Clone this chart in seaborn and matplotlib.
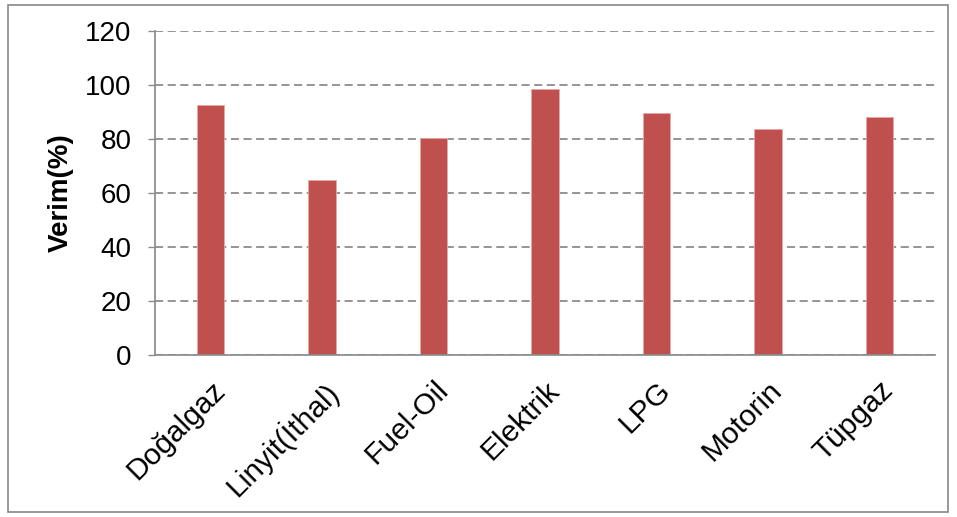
import matplotlib
matplotlib.use("Agg")
import matplotlib.pyplot as plt
import seaborn as sns
import pandas as pd
from matplotlib.patches import Rectangle

categories = ["Doğalgaz", "Linyit(İthal)", "Fuel-Oil", "Elektrik", "LPG", "Motorin", "Tüpgaz"]
values = [92.6, 64.8, 80.2, 98.5, 89.6, 83.8, 88.2]
yticks = [0, 20, 40, 60, 80, 100, 120]

df = pd.DataFrame({"cat": categories, "val": values})

sns.set_theme(style="white")
plt.rcParams['font.family'] = ['Liberation Sans', 'DejaVu Sans']
plt.rcParams['text.color'] = 'black'
plt.rcParams['axes.labelcolor'] = 'black'
plt.rcParams['xtick.color'] = 'black'
plt.rcParams['ytick.color'] = 'black'

fig = plt.figure(figsize=(9.57, 5.17), dpi=100)
ax = fig.add_axes([155/957, 1 - 355/517, (935-155)/957, (355-31)/517])

sns.barplot(data=df, x="cat", y="val", color="#C0504D", width=0.245,
            edgecolor="#E6A9A8", linewidth=0.6, ax=ax, saturation=1)

ax.set_ylim(0, 120)
ax.set_xlim(-0.5, len(categories) - 0.5)
ax.set_yticks(yticks)
ax.set_yticklabels([str(t) for t in yticks], fontsize=20)
ax.yaxis.grid(True, linestyle=(0, (4.5, 2.5)), color="#8C8C8C", linewidth=1.3)
ax.set_axisbelow(True)
for s in ["top", "right"]:
    ax.spines[s].set_visible(False)
ax.spines["left"].set_color("#8C8C8C")
ax.spines["bottom"].set_color("#8C8C8C")
ax.tick_params(axis="y", which="both", left=True, length=5, color="#8C8C8C", width=1, pad=12)
ax.tick_params(axis="x", bottom=False, pad=9)
ax.set_xlabel("")
ax.set_ylabel("Verim(%)", fontsize=20, fontweight="bold", labelpad=8)
ax.set_xticks(range(len(categories)))
ax.set_xticklabels(categories, rotation=45, ha="right", rotation_mode="anchor", fontsize=21.5)

fig.patches.append(Rectangle((8/957, 5/517), 940/957, 507/517, transform=fig.transFigure,
                             fill=False, edgecolor="#888888", linewidth=1.2))

fig.savefig("out.png", dpi=100)
